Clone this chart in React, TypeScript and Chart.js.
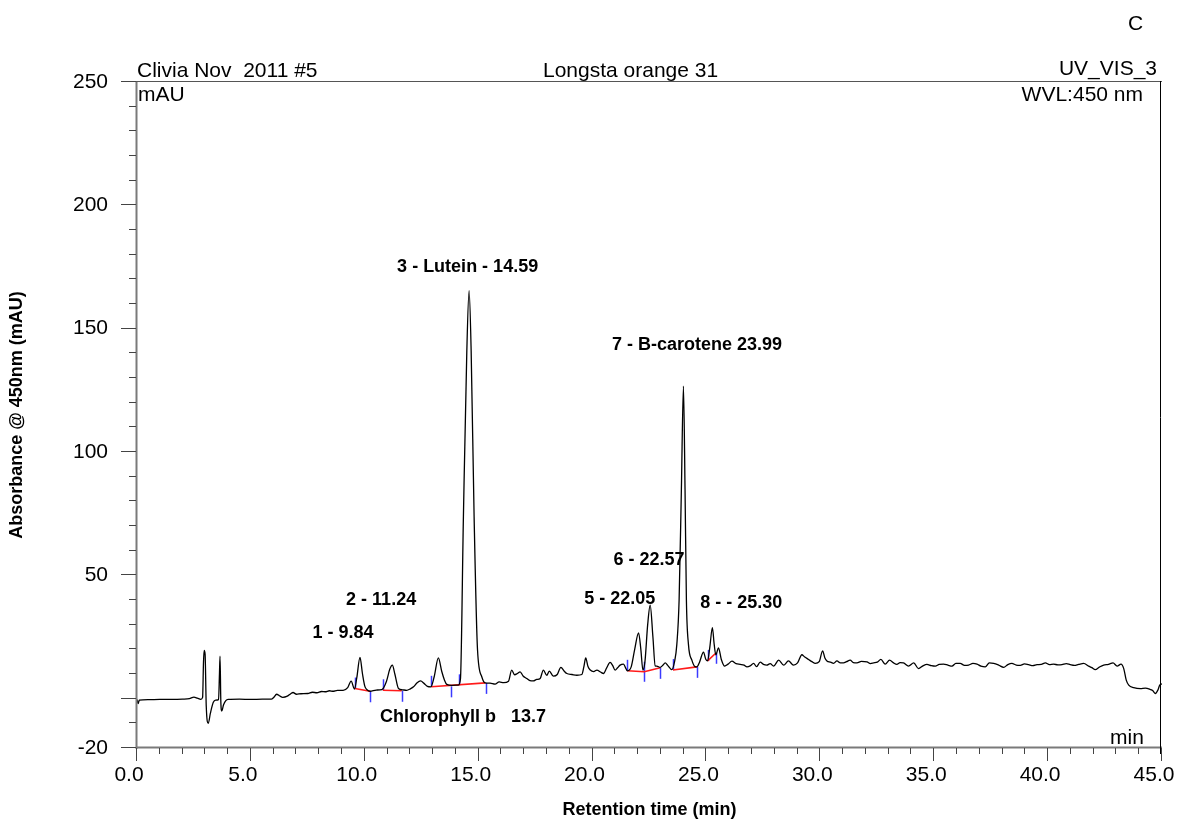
import React, { useEffect, useRef } from 'react';
import { Chart, registerables } from 'chart.js';

Chart.register(...registerables);

// ---- Chromatogram trace (retention time in min, absorbance in mAU) ----
const traceTimes = [
  0.0, 0.05, 0.1, 0.5, 1.0, 1.5, 2.0, 2.3, 2.5, 2.65, 2.8, 2.88, 2.92, 2.95, 2.99, 3.04, 3.13, 3.22, 3.35, 3.45,
  3.58, 3.62, 3.645, 3.68, 3.72, 3.8, 3.9, 4.0, 4.5, 5.0, 5.5, 5.9, 6.0, 6.13, 6.25, 6.4, 6.6, 6.75, 6.85, 7.0,
  7.2, 7.5, 7.7, 7.9, 8.1, 8.26, 8.45, 8.6, 8.8, 9.05, 9.25, 9.4, 9.55, 9.65, 9.79, 9.9, 10.0, 10.1, 10.23, 10.5,
  10.75, 10.95, 11.1, 11.21, 11.32, 11.48, 11.65, 11.84, 12.0, 12.14, 12.3, 12.45, 12.6, 12.75, 12.9, 13.05, 13.23, 13.38, 13.5, 13.6,
  13.82, 14.11, 14.2, 14.33, 14.48, 14.58, 14.67, 14.8, 14.95, 15.14, 15.28, 15.5, 15.72, 15.9, 16.1, 16.31, 16.45, 16.58, 16.7, 16.82,
  16.95, 17.11, 17.25, 17.4, 17.55, 17.7, 17.84, 17.99, 18.1, 18.28, 18.45, 18.61, 18.75, 18.87, 19.1, 19.31, 19.53, 19.62, 19.7, 19.8,
  19.9, 20.05, 20.19, 20.35, 20.48, 20.62, 20.77, 20.88, 20.99, 21.1, 21.21, 21.36, 21.45, 21.53, 21.7, 21.85, 22.02, 22.12, 22.21, 22.3,
  22.42, 22.53, 22.65, 22.75, 22.82, 22.97, 23.08, 23.19, 23.3, 23.48, 23.6, 23.7, 23.8, 23.9, 23.99, 24.06, 24.12, 24.21, 24.36, 24.5,
  24.58, 24.7, 24.87, 24.97, 25.05, 25.15, 25.26, 25.34, 25.41, 25.53, 25.65, 25.8, 25.95, 26.12, 26.3, 26.48, 26.65, 26.78, 26.92, 27.07,
  27.2, 27.36, 27.5, 27.65, 27.8, 27.95, 28.17, 28.39, 28.6, 28.82, 29.0, 29.19, 29.3, 29.48, 29.63, 29.78, 29.95, 30.1, 30.2, 30.29,
  30.45, 30.58, 30.73, 30.88, 31.02, 31.15, 31.31, 31.45, 31.61, 31.8, 32.05, 32.2, 32.34, 32.5, 32.66, 32.85, 33.04, 33.2, 33.36, 33.5,
  33.65, 33.87, 34.1, 34.31, 34.5, 34.68, 34.87, 35.05, 35.22, 35.41, 35.6, 35.78, 35.95, 36.14, 36.33, 36.51, 36.7, 36.88, 37.05, 37.24,
  37.42, 37.61, 37.83, 38.05, 38.23, 38.41, 38.6, 38.78, 38.96, 39.14, 39.33, 39.51, 39.7, 39.88, 40.06, 40.24, 40.43, 40.61, 40.8, 40.97,
  41.15, 41.34, 41.56, 41.78, 41.92, 42.07, 42.25, 42.44, 42.65, 42.85, 43.03, 43.2, 43.32, 43.43, 43.54, 43.76, 44.05, 44.27, 44.49, 44.6,
  44.71, 44.82, 44.9, 45.0,
];
const traceValues = [
  -0.3, -2.0, -0.6, -0.4, -0.3, -0.3, -0.2, 0.0, 0.6, 0.2, -0.3, 0.5, 15, 19.6, 18, -3, -10, -6, -1.5, -0.6,
  -0.4, 10, 17.2, -1, -5, -2.5, -0.8, -0.3, -0.2, -0.3, -0.2, -0.2, 0.5, 1.8, 1.2, 0.5, 1.0, 2.0, 2.5, 1.8,
  2.0, 2.1, 2.6, 2.4, 2.9, 2.8, 3.2, 3.0, 3.4, 3.4, 4.5, 7.1, 3.9, 8.5, 16.7, 10, 5.1, 3.6, 3.0, 3.5,
  3.7, 7, 12, 13.6, 10, 4.1, 3.6, 3.4, 4.0, 4.8, 6.5, 7.2, 6.2, 5.0, 4.8, 9, 16.5, 11, 7.5, 5.8,
  5.4, 5.5, 8, 73.7, 141, 165.4, 141, 73.7, 19.7, 8.8, 6.4, 6.3, 5.9, 6.8, 6.5, 7.1, 11.6, 9.7, 10.2, 10.9,
  9.2, 8.2, 7.3, 7.2, 7.8, 8.2, 11.6, 9.5, 11.2, 9.1, 9.8, 12.7, 11.2, 10.2, 9.8, 9.5, 9.8, 13, 16.5, 13,
  11.6, 11.0, 11.6, 10.8, 10.2, 12.5, 14.7, 13.5, 11.6, 12.5, 13.6, 14.0, 12.5, 11.3, 13, 20, 26.7, 20, 11.6, 15,
  30, 37.9, 25, 13.3, 13.2, 12.7, 13.5, 14.5, 13.5, 11.8, 15, 22, 40, 85, 126.7, 85, 40, 22, 15.6, 13.0,
  12.9, 14.9, 18.9, 16, 15.3, 21, 28.8, 22, 17.8, 20.6, 16, 13.2, 14, 15.2, 14.2, 13.9, 13.6, 12.9, 13.3, 14.3,
  13.0, 14.8, 13.9, 13.6, 14.2, 13.2, 15.6, 13.6, 15.3, 13.6, 14.5, 17.8, 17, 15.9, 15.0, 14.3, 15.0, 19.4, 16.5, 15.3,
  14.8, 14.3, 15.3, 14.5, 14.5, 15, 15.6, 14.6, 14.5, 15.1, 14.9, 14.2, 14.5, 14.8, 15.9, 14.0, 15.6, 14.6, 13.9, 14.6,
  14.5, 13.2, 14.5, 12.2, 13.3, 13.9, 13.4, 13.2, 13.9, 14.0, 13.6, 13.2, 14.3, 14.3, 13.5, 13.6, 14.3, 14.0, 13.2, 12.9,
  14.5, 14.3, 13.6, 12.7, 13.8, 14.3, 13.6, 13.5, 14.1, 13.8, 13.4, 13.8, 13.9, 14.5, 13.8, 14.0, 13.7, 13.8, 14.2, 13.8,
  13.5, 13.9, 14.3, 13.2, 12.6, 11.8, 12.8, 13.6, 13.9, 14.5, 13.2, 14.0, 12.2, 7.5, 5.5, 4.5, 4.1, 4.3, 3.7, 3.2,
  2.1, 3.5, 5.5, 6.0,
];

// ---- Integration baselines (null separates segments) ----
const baselineTimes = [9.57, 10.23, null, 10.79, 11.62, null, 12.92, 15.3, null, 21.53, 22.27, 22.97, null, 23.53, 24.58, null, 25.05, 25.43];
const baselineValues = [4.1, 3.0, null, 3.4, 3.2, null, 4.8, 6.4, null, 11.3, 10.9, 12.5, null, 11.6, 12.9, null, 15.3, 18.6];

// ---- Peak delimiter marks (1 = up, -1 = down, 0 = both) ----
const markerTimes = [9.57, 10.23, 10.79, 11.62, 12.92, 13.78, 14.13, 15.3, 21.53, 22.27, 22.97, 23.53, 24.58, 25.05, 25.43];
const markerValues = [4.1, 3.0, 3.4, 3.2, 4.8, 5.0, 5.4, 6.4, 11.3, 10.9, 12.5, 11.6, 12.9, 15.3, 18.6];
const markerDirections = [1, -1, 1, -1, 1, -1, 1, -1, 1, 0, -1, 1, -1, 1, -1];

// ---- Peak labels ----
const peakLabels = ['1 - 9.84', '2 - 11.24', '3 - Lutein - 14.59', 'Chlorophyll b   13.7', '5 - 22.05', '6 - 22.57', '7 - B-carotene 23.99', '8 - - 25.30'];
const peakLabelTimes = [7.7, 9.18, 11.42, 10.67, 19.63, 20.92, 20.85, 24.73];
const peakLabelValues = [26.8, 39.9, 175.1, -7.4, 40.2, 56.2, 143.3, 38.6];

// ---- Axis ticks ----
const yLabelTicks = [250, 200, 150, 100, 50, -20];
const yMajorTicks = [250, 200, 150, 100, 50, 0, -20];
const xLabelTicks = [0, 5, 10, 15, 20, 25, 30, 35, 40, 45];

const FONT = '"Liberation Sans", Arial, Helvetica, sans-serif';

const decorPlugin = {
  id: 'decor',
  beforeDatasetsDraw(chart: any) {
    const { ctx, scales } = chart;
    const x = scales.x;
    const y = scales.y;
    ctx.save();
    ctx.strokeStyle = '#3a3aff';
    ctx.lineWidth = 1.5;
    markerTimes.forEach((t, i) => {
      const px = Math.round(x.getPixelForValue(t)) + 0.5;
      const py = y.getPixelForValue(markerValues[i]);
      const d = markerDirections[i];
      let y1 = py;
      let y2 = py;
      if (d > 0) y1 = py - 11;
      else if (d < 0) y2 = py + 11;
      else { y1 = py - 10; y2 = py + 10; }
      ctx.beginPath();
      ctx.moveTo(px, y1);
      ctx.lineTo(px, y2);
      ctx.stroke();
    });
    ctx.restore();
  },
  afterDraw(chart: any) {
    const { ctx, chartArea, scales } = chart;
    const x = scales.x;
    const y = scales.y;
    const { left, right, top, bottom } = chartArea;
    ctx.save();

    // frame / axes
    ctx.strokeStyle = '#7a7a7a';
    ctx.lineWidth = 2;
    ctx.beginPath();
    ctx.moveTo(left - 0.5, top);
    ctx.lineTo(left - 0.5, bottom + 1);
    ctx.moveTo(left - 1, bottom - 0.5);
    ctx.lineTo(right, bottom - 0.5);
    ctx.stroke();
    ctx.lineWidth = 1.2;
    ctx.strokeStyle = '#555';
    ctx.beginPath();
    ctx.moveTo(left - 15, top - 0.5);
    ctx.lineTo(right, top - 0.5);
    ctx.stroke();
    ctx.strokeStyle = '#000';
    ctx.lineWidth = 1;
    ctx.beginPath();
    ctx.moveTo(right - 1.5, top - 1);
    ctx.lineTo(right - 1.5, bottom + 6);
    ctx.stroke();

    // y ticks
    ctx.strokeStyle = '#444';
    ctx.lineWidth = 1;
    for (let v = -20; v <= 250; v += 10) {
      const py = Math.round(y.getPixelForValue(v)) - 0.5;
      const len = yMajorTicks.includes(v) ? 15 : 7;
      ctx.beginPath();
      ctx.moveTo(left - 1 - len, py);
      ctx.lineTo(left - 1, py);
      ctx.stroke();
    }
    // x ticks
    for (let t = 0; t <= 45; t += 1) {
      const px = Math.round(x.getPixelForValue(t)) - 0.5;
      const len = xLabelTicks.includes(t) ? 13 : 6;
      ctx.beginPath();
      ctx.moveTo(px, bottom);
      ctx.lineTo(px, bottom + len);
      ctx.stroke();
    }

    // header texts
    ctx.fillStyle = '#000';
    ctx.font = `21px ${FONT}`;
    ctx.textBaseline = 'alphabetic';
    ctx.textAlign = 'left';
    ctx.fillText('C', 1128, 30);
    ctx.fillText('Clivia Nov  2011 #5', left, 77);
    ctx.fillText('mAU', left + 1, 101);
    ctx.fillText('Longsta orange 31', 543, 77);
    ctx.textAlign = 'right';
    ctx.fillText('UV_VIS_3', 1157, 75);
    ctx.fillText('WVL:450 nm', 1143, 101);
    ctx.textAlign = 'left';
    ctx.fillText('min', 1110, 744);

    // peak labels
    ctx.font = `bold 18px ${FONT}`;
    ctx.textBaseline = 'middle';
    peakLabels.forEach((label, i) => {
      ctx.fillText(label, x.getPixelForValue(peakLabelTimes[i]), y.getPixelForValue(peakLabelValues[i]));
    });

    // axis titles
    ctx.textAlign = 'center';
    ctx.fillText('Retention time (min)', (left + right) / 2, 810);
    ctx.translate(17, (top + bottom) / 2);
    ctx.rotate(-Math.PI / 2);
    ctx.fillText('Absorbance @ 450nm (mAU)', 0, 0);

    ctx.restore();
  },
};

export default function App() {
  const canvasRef = useRef<HTMLCanvasElement | null>(null);

  useEffect(() => {
    const canvas = canvasRef.current;
    if (!canvas) return;
    const trace = traceTimes.map((t, i) => ({ x: t, y: traceValues[i] }));
    const baseline = baselineTimes.map((t, i) => ({ x: t === null ? NaN : t, y: baselineValues[i] }));

    const chart = new Chart(canvas, {
      type: 'line',
      data: {
        datasets: [
          {
            data: trace as any,
            borderColor: '#000',
            borderWidth: 1.3,
            pointRadius: 0,
            cubicInterpolationMode: 'monotone',
            fill: false,
          },
          {
            data: baseline as any,
            borderColor: '#ff1a1a',
            borderWidth: 1.6,
            pointRadius: 0,
            spanGaps: false,
            fill: false,
          },
        ],
      },
      options: {
        responsive: false,
        animation: false,
        devicePixelRatio: 1,
        layout: { padding: { left: 0, right: 15, top: 82, bottom: 0 } },
        plugins: { legend: { display: false }, tooltip: { enabled: false } },
        scales: {
          x: {
            type: 'linear',
            min: 0,
            max: 45,
            grid: { display: false, drawTicks: false },
            border: { display: false },
            ticks: {
              stepSize: 1,
              autoSkip: false,
              maxRotation: 0,
              padding: 15,
              labelOffset: -8,
              color: '#000',
              font: { family: FONT, size: 21 },
              callback: (value: any) => {
                const v = Number(value);
                return xLabelTicks.some((t) => Math.abs(t - v) < 1e-6) ? v.toFixed(1) : '';
              },
            },
            afterFit: (s: any) => {
              s.height = 75;
              s.paddingLeft = 0;
              s.paddingRight = 0;
            },
          },
          y: {
            type: 'linear',
            min: -20,
            max: 250,
            grid: { display: false, drawTicks: false },
            border: { display: false },
            ticks: {
              stepSize: 10,
              autoSkip: false,
              padding: 29,
              color: '#000',
              font: { family: FONT, size: 21 },
              callback: (value: any) => {
                const v = Number(value);
                return yLabelTicks.some((t) => Math.abs(t - v) < 1e-6) ? String(v) : '';
              },
            },
            afterFit: (s: any) => {
              s.width = 137;
              s.paddingTop = 0;
              s.paddingBottom = 0;
            },
          },
        },
      },
      plugins: [decorPlugin],
    });

    return () => chart.destroy();
  }, []);

  return (
    <div style={{ position: 'absolute', left: 0, top: 0, width: 1177, height: 823, background: '#fff' }}>
      <canvas ref={canvasRef} width={1177} height={823} style={{ width: 1177, height: 823, display: 'block' }} />
    </div>
  );
}
